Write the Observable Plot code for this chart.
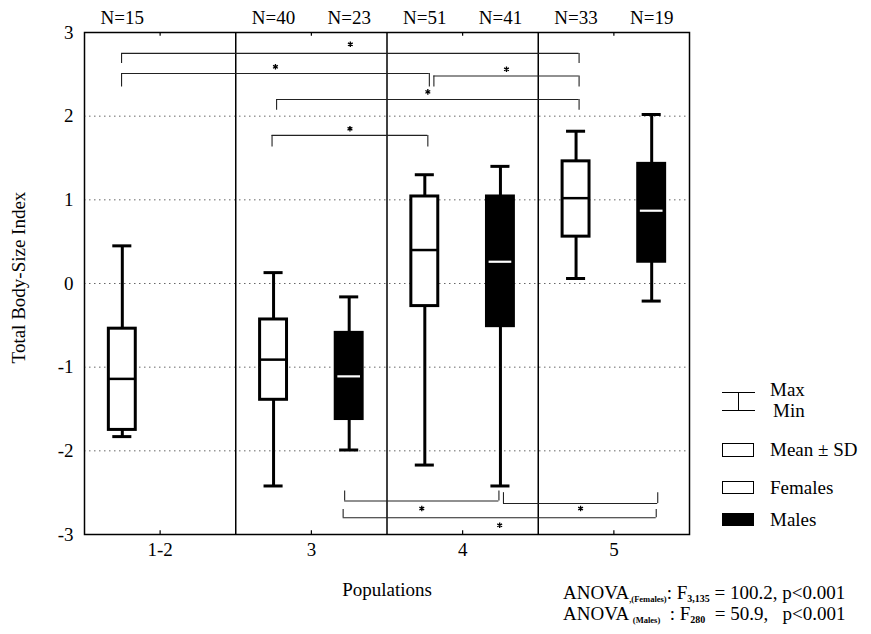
<!DOCTYPE html>
<html>
<head>
<meta charset="utf-8">
<script src="https://cdn.jsdelivr.net/npm/d3@7"></script>
<script src="https://cdn.jsdelivr.net/npm/@observablehq/plot@0.6"></script>
<style>
  html, body { margin: 0; padding: 0; background: white; }
  #wrap { position: relative; width: 871px; height: 634px; font-family: "Liberation Serif", "Times New Roman", Tinos, "DejaVu Serif", serif; color: #000; }
  #wrap svg { position: absolute; left: 0; top: 0; }
  .t { position: absolute; font-size: 19px; line-height: 22px; white-space: pre; }
  .t sub { font-size: 8.5px; vertical-align: -3px; font-weight: bold; }
  .t sub.n { font-size: 10px; font-weight: bold; }
  .sw { position: absolute; box-sizing: border-box; }
</style>
</head>
<body>
<div id="wrap"></div>
<script>
// ---- data ----
const groups = ["1-2", "3", "4", "5"];
const boxGroup = ["1-2", "3", "3", "4", "4", "5", "5"];
const boxSex   = ["Females", "Females", "Males", "Females", "Males", "Females", "Males"];
const boxN     = [15, 40, 23, 51, 41, 33, 19];
const boxMin   = [-1.83, -2.42, -1.99, -2.17, -2.42, 0.06, -0.21];
const boxLow   = [-1.75, -1.39, -1.62, -0.27, -0.51, 0.56, 0.26];
const boxMean  = [-1.14, -0.91, -1.11, 0.40, 0.26, 1.02, 0.87];
const boxHigh  = [-0.54, -0.43, -0.59, 1.04, 1.04, 1.46, 1.43];
const boxMax   = [0.45, 0.13, -0.16, 1.30, 1.40, 1.82, 2.02];

// significance brackets (x positions on the population axis, y in index units)
const bracketFrom  = [0.245, 0.245, 2.31, 1.27, 1.24, 1.72, 2.77, 1.71];
const bracketTo    = [3.27, 2.28, 3.27, 3.27, 2.27, 2.74, 3.79, 3.78];
const bracketLevel = [2.75, 2.51, 2.48, 2.20, 1.77, -2.60, -2.63, -2.80];
const bracketEnd   = [2.63, 2.35, 2.35, 2.07, 1.63, -2.48, -2.50, -2.70];
const starLevel    = [2.86, 2.59, 2.56, 2.29, 1.85, -2.69, -2.69, -2.89];

const yTicks = [-3, -2, -1, 0, 1, 2, 3];
const gridValues = [-2, -1, 0, 1, 2];

// ---- build tables ----
const boxes = boxGroup.map((g, i) => ({
  group: g, sex: boxSex[i], n: boxN[i],
  pos: groups.indexOf(g) + (boxSex[i] === "Females" ? 0.25 : 0.75),
  min: boxMin[i], low: boxLow[i], mean: boxMean[i], high: boxHigh[i], max: boxMax[i]
}));
const brackets = bracketFrom.map((f, i) => ({
  from: f, to: bracketTo[i], level: bracketLevel[i], end: bracketEnd[i],
  star: starLevel[i], mid: (f + bracketTo[i]) / 2
}));
const bracketEnds = brackets.flatMap(b => [{x: b.from, y1: b.level, y2: b.end}, {x: b.to, y1: b.level, y2: b.end}]);
const groupCenters = groups.map((g, i) => i + 0.5);
const separators = groups.slice(1).map((g, i) => i + 1);

const hw = 0.089, cw = 0.063, mw = 0.075;
const fontStack = "'Liberation Serif', 'Times New Roman', Tinos, 'DejaVu Serif', serif";

const chart = Plot.plot({
  width: 871,
  height: 634,
  marginLeft: 84,
  marginRight: 182,
  marginTop: 32,
  marginBottom: 100,
  style: {fontFamily: fontStack, fontSize: "19px", background: "transparent", color: "black", overflow: "visible"},
  x: {domain: [0, 4], ticks: groupCenters, tickFormat: d => groups[Math.floor(d)], tickSize: 0, tickPadding: 8, label: null},
  y: {domain: [-3, 3], ticks: yTicks, tickFormat: d => String(d), tickSize: 0, tickPadding: 11, label: null},
  marks: [
    Plot.ruleY(gridValues, {stroke: "#666", strokeWidth: 1, strokeDasharray: "1.5,3.5"}),
    Plot.ruleX(separators, {stroke: "black", strokeWidth: 1.5}),
    Plot.frame({stroke: "black", strokeWidth: 1.5}),
    Plot.ruleX(groupCenters, {y1: 3, y2: 2.955, stroke: "black", strokeWidth: 1.2}),
    Plot.ruleX(groupCenters, {y1: -3, y2: -2.955, stroke: "black", strokeWidth: 1.2}),
    // brackets
    Plot.ruleY(brackets, {x1: "from", x2: "to", y: "level", stroke: "#222", strokeWidth: 1.1}),
    Plot.ruleX(bracketEnds, {x: "x", y1: "y1", y2: "y2", stroke: "#222", strokeWidth: 1.1}),
    Plot.dot(brackets, {x: "mid", y: "star", symbol: "asterisk", r: 2.6, stroke: "black", strokeWidth: 1.3}),
    // whiskers
    Plot.ruleX(boxes, {x: "pos", y1: "high", y2: "max", stroke: "black", strokeWidth: 3}),
    Plot.ruleX(boxes, {x: "pos", y1: "low", y2: "min", stroke: "black", strokeWidth: 3}),
    Plot.ruleY(boxes, {x1: d => d.pos - cw, x2: d => d.pos + cw, y: "max", stroke: "black", strokeWidth: 3}),
    Plot.ruleY(boxes, {x1: d => d.pos - cw, x2: d => d.pos + cw, y: "min", stroke: "black", strokeWidth: 3}),
    // boxes
    Plot.rect(boxes, {x1: d => d.pos - hw, x2: d => d.pos + hw, y1: "low", y2: "high",
      fill: d => d.sex === "Males" ? "black" : "white", stroke: "black", strokeWidth: 3}),
    Plot.ruleY(boxes.filter(d => d.sex === "Females"), {x1: d => d.pos - hw, x2: d => d.pos + hw, y: "mean", stroke: "black", strokeWidth: 2.5}),
    Plot.ruleY(boxes.filter(d => d.sex === "Males"), {x1: d => d.pos - mw, x2: d => d.pos + mw, y: "mean", stroke: "white", strokeWidth: 2.2}),
    // N labels
    Plot.text(boxes, {x: "pos", y: 3, dy: -15, text: d => "N=" + d.n, fill: "black"}),
    // axis titles
    Plot.text(["Total Body-Size Index"], {frameAnchor: "left", textAnchor: "middle", dx: -66, dy: -6, rotate: -90, text: d => d, fill: "black"}),
    Plot.text(["Populations"], {frameAnchor: "bottom", dy: 61, text: d => d, fill: "black"})
  ]
});

const wrap = document.getElementById("wrap");
wrap.appendChild(chart);

// legend + ANOVA text
const extra = `
  <div class="sw" style="left:722px;top:392px;width:33px;height:0;border-top:1.5px solid #000"></div>
  <div class="sw" style="left:722px;top:410px;width:33px;height:0;border-top:1.5px solid #000"></div>
  <div class="sw" style="left:737.5px;top:392px;width:0;height:19px;border-left:1.5px solid #000"></div>
  <div class="t" style="left:770px;top:379px">Max</div>
  <div class="t" style="left:773px;top:400px">Min</div>
  <div class="sw" style="left:722px;top:443px;width:32px;height:14px;border:1.5px solid #000;background:#fff"></div>
  <div class="t" style="left:770px;top:439px">Mean ± SD</div>
  <div class="sw" style="left:722px;top:481px;width:32px;height:13px;border:1.5px solid #000;background:#fff"></div>
  <div class="t" style="left:770px;top:477px">Females</div>
  <div class="sw" style="left:722px;top:513px;width:32px;height:13px;background:#000"></div>
  <div class="t" style="left:770px;top:509px">Males</div>
  <div class="t" style="left:563px;top:582px">ANOVA<sub>,(Females)</sub>: F<sub class="n">3,135</sub> = 100.2, p&lt;0.001</div>
  <div class="t" style="left:563px;top:603px">ANOVA <sub>(Males)</sub>  : F<sub class="n">280</sub>  = 50.9,   p&lt;0.001</div>
`;
wrap.insertAdjacentHTML("beforeend", extra);
</script>
</body>
</html>
